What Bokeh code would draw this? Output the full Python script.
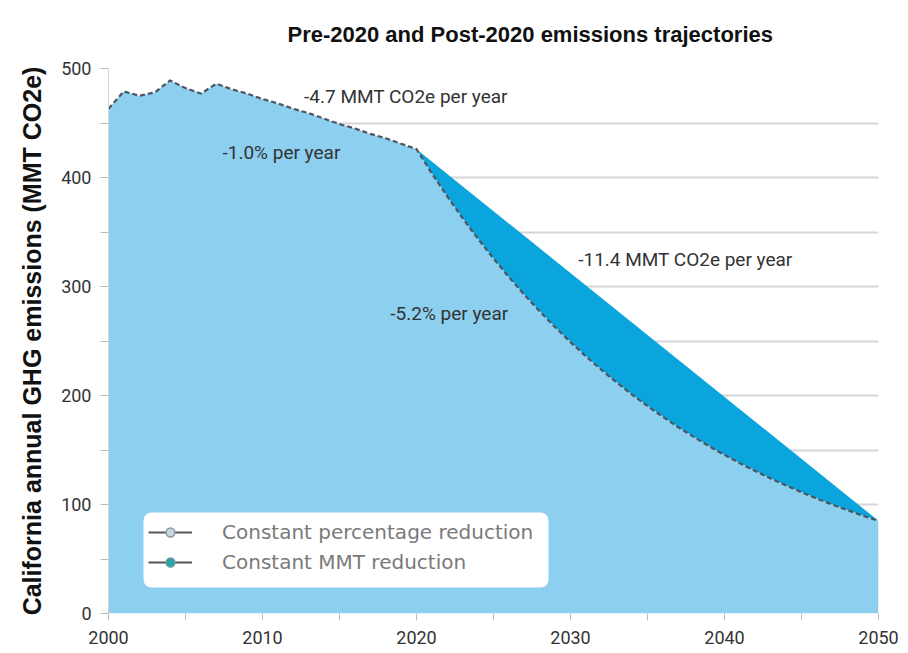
from bokeh.plotting import figure
from bokeh.models import Range1d, Legend, LegendItem, Label, FixedTicker, BoxAnnotation
from bokeh.embed import file_html
from bokeh.resources import INLINE

# ---- data ----
hist_years = [2000, 2001, 2002, 2003, 2004, 2005, 2006, 2007, 2008, 2009, 2010,
              2011, 2012, 2013, 2014, 2015, 2016, 2017, 2018, 2019, 2020]
hist_values = [463, 479, 475, 478, 489, 482, 477, 486, 481, 477, 472,
               468, 463, 459, 454, 449, 445, 440, 436, 431, 426]

pct_years = [2020, 2021, 2022, 2023, 2024, 2025, 2026, 2027, 2028, 2029, 2030,
             2031, 2032, 2033, 2034, 2035, 2036, 2037, 2038, 2039, 2040,
             2041, 2042, 2043, 2044, 2045, 2046, 2047, 2048, 2049, 2050]
pct_values = [426, 403.7, 382.6, 362.6, 343.6, 325.7, 308.6, 292.5, 277.2, 262.7, 249.0,
              235.9, 223.6, 211.9, 200.8, 190.3, 180.4, 170.9, 162.0, 153.5, 145.5,
              137.9, 130.7, 123.8, 117.4, 111.2, 105.4, 99.9, 94.7, 89.7, 85.0]

lin_years = [2020, 2050]
lin_values = [426, 85]

x_ticks = [2000, 2010, 2020, 2030, 2040, 2050]
x_minor = [2005, 2015, 2025, 2035, 2045]
y_ticks = [0, 100, 200, 300, 400, 500]
y_minor = [50, 150, 250, 350, 450]

ann_texts = ["-4.7 MMT CO2e per year", "-1.0% per year", "-11.4 MMT CO2e per year", "-5.2% per year"]
ann_x = [2012.7, 2007.4, 2030.5, 2018.3]
ann_y = [474, 423, 325, 275]

legend_labels = ["Constant percentage reduction", "Constant MMT reduction"]

TITLE = "Pre-2020 and Post-2020 emissions trajectories"
YLABEL = "California annual GHG emissions (MMT CO2e)"

NARROW = "Roboto"

p = figure(width=900, height=648, x_range=Range1d(2000, 2050), y_range=Range1d(0, 500),
           output_backend="svg", toolbar_location=None,
           min_border_left=108, min_border_right=22, min_border_top=68, min_border_bottom=35)
p.outline_line_color = None
p.background_fill_color = "white"

# title
p.title.text = TITLE
p.title.align = "left"
p.title.vertical_align = "top"
p.title.text_font = "Liberation Sans"
p.title.text_font_style = "bold"
p.title.text_font_size = "22px"
p.title.text_color = "#111111"
p.title.offset = 179
p.title.standoff = 40

# grid
p.xgrid.visible = False
p.ygrid.ticker = FixedTicker(ticks=y_ticks + y_minor)
p.ygrid.grid_line_color = "#d6d6d6"
p.ygrid.grid_line_width = 2

# axes
bx = p.below[0]
ly = p.left[0]
bx.ticker = FixedTicker(ticks=x_ticks, minor_ticks=x_minor)
ly.ticker = FixedTicker(ticks=y_ticks, minor_ticks=y_minor)
for ax in (bx, ly):
    ax.major_tick_in = 0
    ax.minor_tick_in = 0
    ax.major_tick_line_color = "#bbbbbb"
    ax.minor_tick_line_color = "#bbbbbb"
    ax.major_label_text_font = NARROW
    ax.major_label_text_font_size = "18px"
    ax.major_label_text_color = "#333333"
bx.axis_line_color = None
bx.major_tick_out = 7
bx.minor_tick_out = 7
bx.major_label_standoff = 10
ly.axis_line_color = "#d6d6d6"
ly.major_tick_out = 8
ly.minor_tick_out = 8
ly.major_label_standoff = 9
ly.axis_label = YLABEL
ly.axis_label_text_font = "Liberation Sans"
ly.axis_label_text_font_style = "bold"
ly.axis_label_text_font_size = "25px"
ly.axis_label_text_color = "#111111"
ly.axis_label_standoff = 12

# areas
curve_years = hist_years + pct_years[1:]
curve_values = hist_values + pct_values[1:]

p.patch(x=lin_years + pct_years[::-1], y=lin_values + pct_values[::-1],
        fill_color="#0aa5dc", line_color=None)
p.varea(x=curve_years, y1=[0] * len(curve_years), y2=curve_values,
        fill_color="#8ccfef")
p.line(x=curve_years, y=curve_values, line_color="#4d5560", line_width=2.2, line_dash="5 3")

# annotations
for t, x, y in zip(ann_texts, ann_x, ann_y):
    p.add_layout(Label(x=x, y=y, text=t, text_align="left", text_baseline="middle",
                       text_font=NARROW, text_font_size="19px", text_color="#333333"))

# legend background box
p.add_layout(BoxAnnotation(left=35, right=440, bottom=26, top=101,
                           left_units="screen", right_units="screen",
                           bottom_units="screen", top_units="screen",
                           fill_color="white", fill_alpha=1.0, line_color=None,
                           border_radius=8))

# legend (dummy renderers, NaN data so nothing is drawn in the plot)
nan = float("nan")
r_line = p.line(x=[nan], y=[nan], line_color="#555555", line_width=2)
r_c1 = p.scatter(x=[nan], y=[nan], marker="circle", size=10, fill_color="#c9d5dc", line_color="#8a98a1", line_width=1.5)
r_c2 = p.scatter(x=[nan], y=[nan], marker="circle", size=10, fill_color="#2ba3ad", line_color="#6a9aa0", line_width=1.5)

legend = Legend(items=[LegendItem(label=legend_labels[0], renderers=[r_line, r_c1]),
                       LegendItem(label=legend_labels[1], renderers=[r_line, r_c2])],
                location=(40, 39))
legend.background_fill_alpha = 0.0
legend.border_line_color = None
legend.label_text_font = "DejaVu Sans"
legend.label_text_font_size = "20px"
legend.label_text_color = "#7a7a7a"
legend.glyph_width = 44
legend.glyph_height = 22
legend.label_height = 22
legend.spacing = 6
legend.padding = 0
legend.margin = 0
legend.label_standoff = 30
p.add_layout(legend)

open("out.html", "w").write(file_html(p, INLINE))
